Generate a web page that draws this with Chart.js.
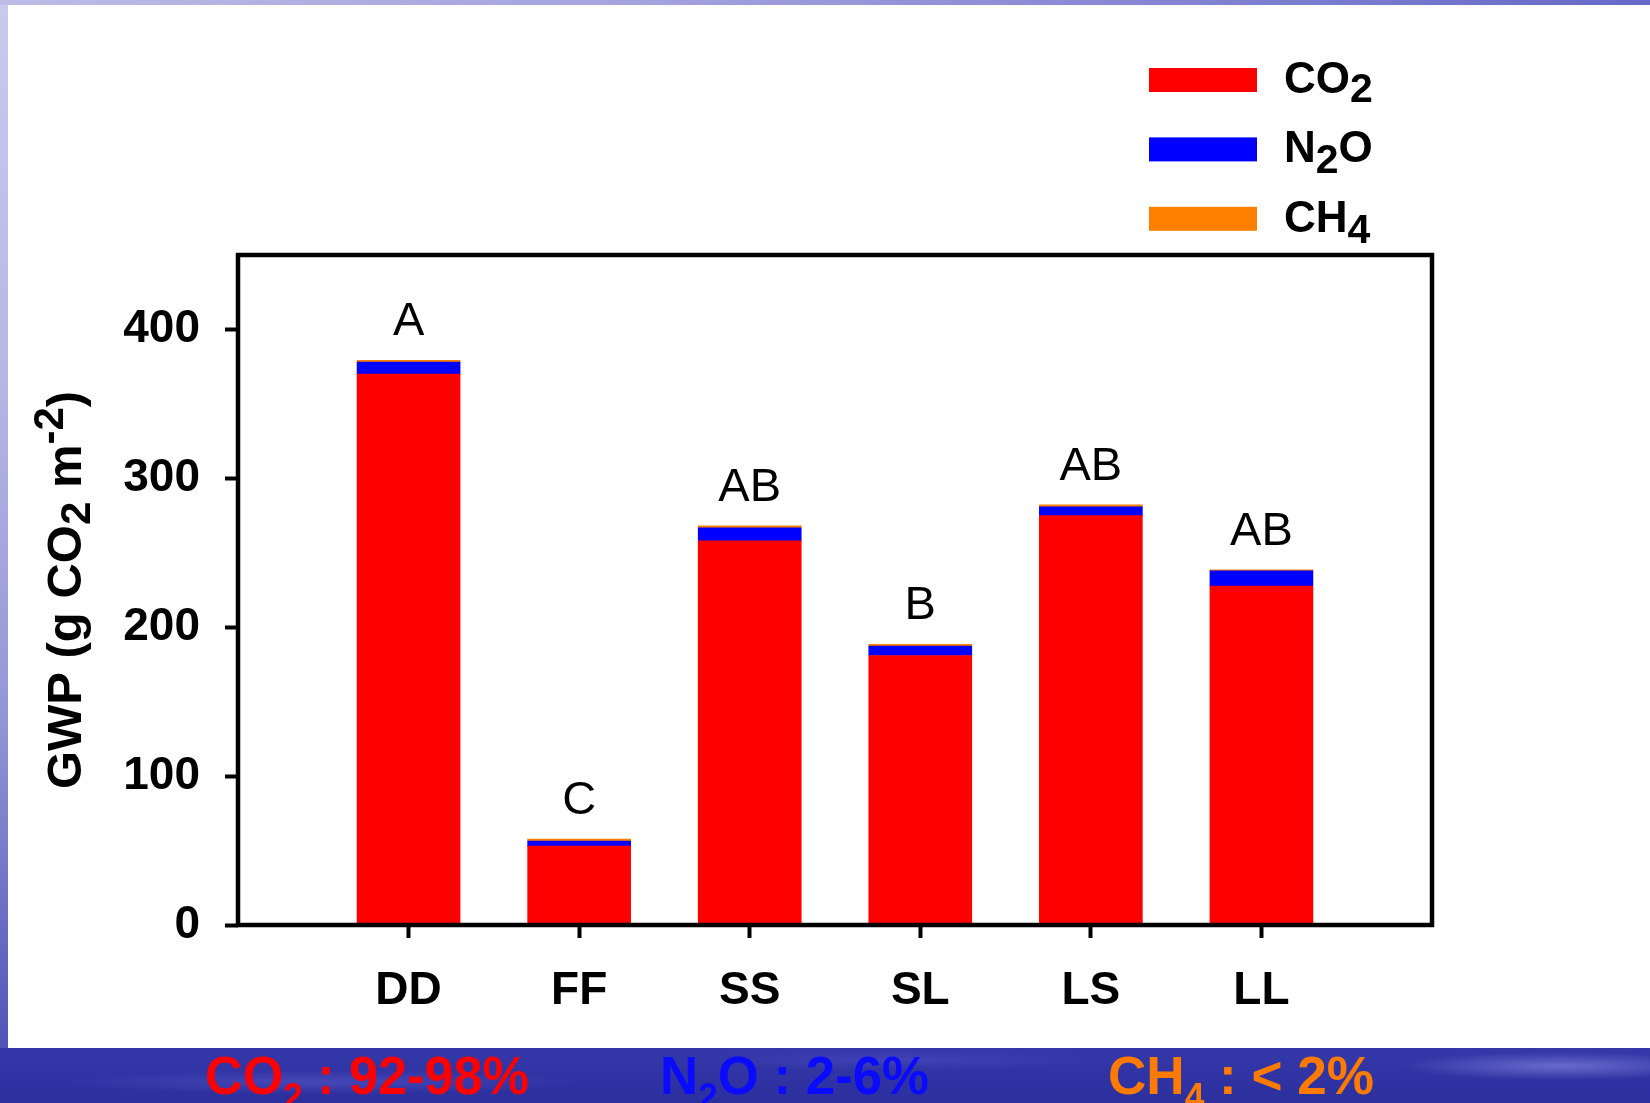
<!DOCTYPE html>
<html>
<head>
<meta charset="utf-8">
<title>GWP</title>
<script src="https://cdn.jsdelivr.net/npm/chart.js@4.4.1/dist/chart.umd.min.js"></script>
<style>
  html, body { margin: 0; padding: 0; }
  body {
    width: 1650px; height: 1103px; position: relative; overflow: hidden;
    background: linear-gradient(to bottom, #cacaee 0%, #b6b6e4 35%, #9396d6 65%, #4548b2 100%);
  }
  #topStrip {
    position: absolute; left: 0; top: 0; width: 1650px; height: 5px;
    background: linear-gradient(to right, #bcbce6, #a2a2de 40%, #6868c8 100%);
  }
  #panel { position: absolute; left: 8px; top: 5px; width: 1642px; height: 1043px; background: #fff; }
  #band {
    position: absolute; left: 0; top: 1048px; width: 1650px; height: 55px;
    background:
      radial-gradient(ellipse 160px 14px at 1560px 18px, rgba(150,150,235,0.55), transparent),
      radial-gradient(ellipse 260px 12px at 320px 34px, rgba(110,110,220,0.35), transparent),
      radial-gradient(ellipse 200px 10px at 900px 12px, rgba(90,90,210,0.35), transparent),
      linear-gradient(to bottom, #3438a8, #2c2f9e);
  }
  #chart { position: absolute; left: 0; top: 0; }
  .note {
    position: absolute; top: 1044px; white-space: nowrap; line-height: 1;
    font: bold 54px "Liberation Sans", Arial, sans-serif;
    transform-origin: 0 0;
  }
  .note .sb { font-size: 36px; position: relative; top: 15px; }
</style>
</head>
<body>
<div id="topStrip"></div>
<div id="panel"></div>
<div id="band"></div>
<canvas id="chart" width="1650" height="1103"></canvas>
<div class="note" id="noteCo2" style="left:205px;color:#ff0000">CO<span class="sb">2</span> : 92-98%</div>
<div class="note" id="noteN2o" style="left:660px;color:#0a0aff">N<span class="sb">2</span>O : 2-6%</div>
<div class="note" id="noteCh4" style="left:1108px;color:#ff7a00">CH<span class="sb">4</span> : &lt; 2%</div>
<script>
// データ
const CATEGORIES = ['DD', 'FF', 'SS', 'SL', 'LS', 'LL'];
const CO2_VALUES = [370, 53, 258, 181, 275, 227.7];
const N2O_VALUES = [8, 3.3, 8.7, 6.3, 5.8, 10.1];
const CH4_VALUES = [1.2, 1.4, 1.4, 1.2, 1.4, 0.7];
const SIG_LETTERS = ['A', 'C', 'AB', 'B', 'AB', 'AB'];
const Y_TICKS = [0, 100, 200, 300, 400];
const Y_MAX = 450;

const FONT = '"Liberation Sans", Arial, sans-serif';

/**
 * 下付き・上付きを含む文字列を描画
 */
function drawRich(ctx, parts, x, y) {
    let cx = x;
    parts.forEach(p => {
        ctx.font = p.font;
        ctx.fillText(p.t, cx, y + (p.dy || 0));
        cx += ctx.measureText(p.t).width;
    });
}

function richWidth(ctx, parts) {
    return parts.reduce((w, p) => {
        ctx.font = p.font;
        return w + ctx.measureText(p.t).width;
    }, 0);
}

// 枠線
const framePlugin = {
    id: 'frame',
    afterDatasetsDraw(chart) {
        const { ctx, chartArea: a } = chart;
        ctx.save();
        ctx.strokeStyle = '#000';
        ctx.lineWidth = 4.5;
        ctx.strokeRect(a.left, a.top, a.right - a.left, a.bottom - a.top);
        ctx.restore();
    }
};

// 有意差の文字
const letterPlugin = {
    id: 'letters',
    afterDatasetsDraw(chart) {
        const { ctx } = chart;
        const xs = chart.scales.x;
        const ys = chart.scales.y;
        ctx.save();
        ctx.fillStyle = '#000';
        ctx.font = '47px ' + FONT;
        ctx.textAlign = 'center';
        ctx.textBaseline = 'alphabetic';
        SIG_LETTERS.forEach((s, i) => {
            const total = CO2_VALUES[i] + N2O_VALUES[i] + CH4_VALUES[i];
            ctx.fillText(s, xs.getPixelForValue(i + 1), ys.getPixelForValue(total) - 25);
        });
        ctx.restore();
    }
};

// Y軸タイトル
const yTitlePlugin = {
    id: 'yTitle',
    afterDraw(chart) {
        const { ctx } = chart;
        const big = 'bold 49px ' + FONT;
        const small = 'bold 42px ' + FONT;
        const parts = [
            { t: 'GWP (g CO', font: big },
            { t: '2', font: small, dy: 9 },
            { t: ' m', font: big },
            { t: '-2', font: small, dy: -18 },
            { t: ')', font: big }
        ];
        ctx.save();
        ctx.translate(81, 590);
        ctx.rotate(-Math.PI / 2);
        ctx.fillStyle = '#000';
        ctx.textBaseline = 'alphabetic';
        ctx.textAlign = 'left';
        drawRich(ctx, parts, -richWidth(ctx, parts) / 2, 0);
        ctx.restore();
    }
};

// 凡例
const legendPlugin = {
    id: 'customLegend',
    afterDraw(chart) {
        const { ctx } = chart;
        const big = 'bold 44px ' + FONT;
        const small = 'bold 41px ' + FONT;
        const labels = [
            [{ t: 'CO', font: big }, { t: '2', font: small, dy: 9 }],
            [{ t: 'N', font: big }, { t: '2', font: small, dy: 11 }, { t: 'O', font: big }],
            [{ t: 'CH', font: big }, { t: '4', font: small, dy: 11 }]
        ];
        ctx.save();
        chart.data.datasets.forEach((ds, i) => {
            const top = 68 + i * 69.4;
            ctx.fillStyle = ds.backgroundColor;
            ctx.fillRect(1149, top, 108, 24);
            ctx.fillStyle = '#000';
            drawRich(ctx, labels[i], 1284, top + 25);
        });
        ctx.restore();
    }
};

function toPoints(values) {
    return values.map((v, i) => ({ x: i + 1, y: v }));
}

const tickFont = { family: FONT, size: 46, weight: 'bold' };

new Chart(document.getElementById('chart').getContext('2d'), {
    type: 'bar',
    data: {
        datasets: [
            { label: 'CO2', data: toPoints(CO2_VALUES), backgroundColor: '#ff0000' },
            { label: 'N2O', data: toPoints(N2O_VALUES), backgroundColor: '#0000ff' },
            { label: 'CH4', data: toPoints(CH4_VALUES), backgroundColor: '#ff8000' }
        ]
    },
    options: {
        responsive: false,
        animation: false,
        layout: { padding: { left: 0, top: 255, right: 218, bottom: 0 } },
        datasets: { bar: { barThickness: 103, borderWidth: 0 } },
        plugins: { legend: { display: false }, tooltip: { enabled: false } },
        scales: {
            x: {
                type: 'linear',
                stacked: true,
                offset: false,
                min: 0,
                max: 7,
                afterFit(scale) { scale.height = 178; },
                afterBuildTicks(scale) { scale.ticks = CATEGORIES.map((c, i) => ({ value: i + 1 })); },
                ticks: {
                    callback: v => CATEGORIES[v - 1],
                    font: tickFont, color: '#000', padding: 26,
                    maxRotation: 0, autoSkip: false
                },
                grid: {
                    offset: false, drawOnChartArea: false, drawTicks: true,
                    tickLength: 13, tickWidth: 4, tickColor: '#000'
                },
                border: { display: false }
            },
            y: {
                stacked: true,
                min: 0,
                max: Y_MAX,
                afterFit(scale) { scale.width = 238; },
                afterBuildTicks(scale) { scale.ticks = Y_TICKS.map(v => ({ value: v })); },
                ticks: { font: tickFont, color: '#000', padding: 25 },
                grid: {
                    drawOnChartArea: false, drawTicks: true,
                    tickLength: 13, tickWidth: 4, tickColor: '#000'
                },
                border: { display: false }
            }
        }
    },
    plugins: [framePlugin, letterPlugin, yTitlePlugin, legendPlugin]
});

// 下の注記を幅に合わせる
[['noteCo2', 324], ['noteN2o', 269], ['noteCh4', 266]].forEach(([id, w]) => {
    const el = document.getElementById(id);
    const actual = el.getBoundingClientRect().width;
    el.style.transform = 'scaleX(' + (w / actual) + ')';
});
</script>
</body>
</html>
